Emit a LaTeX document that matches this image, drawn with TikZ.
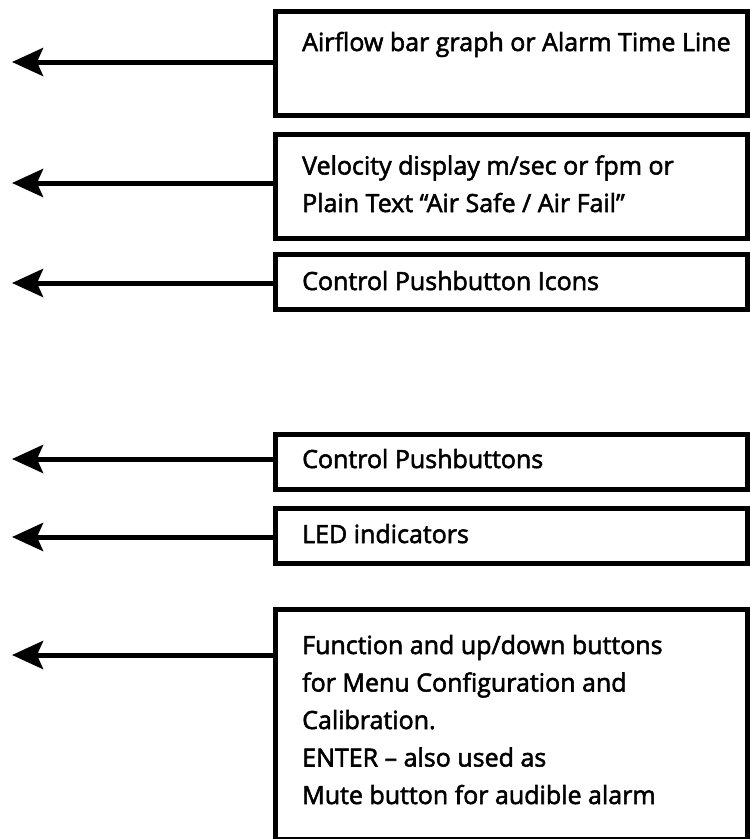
\documentclass[tikz,border=0pt]{standalone}
\usepackage{fontspec}
\setmainfont{Open Sans}[FakeBold=2.2]
\usetikzlibrary{arrows.meta}
\tikzset{
  infobox/.style={draw=black, line width=5pt, rectangle, inner sep=0pt, anchor=north west, minimum width=472pt},
  lbl/.style={anchor=base west, inner sep=0pt, font=\fontsize{25}{37.5}\selectfont, align=left},
  arr/.style={line width=5pt, -{Stealth[length=31pt, width=28pt, inset=6pt]}}
}
\begin{document}
\begin{tikzpicture}[x=1pt, y=-1pt]
\useasboundingbox (0,0) rectangle (750,839);
\clip (0,0) rectangle (750,839);
\fill[white] (0,0) rectangle (750,839);
% boxes
\node[infobox, minimum height=104pt] (b1) at (273,9) {};
\node[infobox, minimum height=104pt] (b2) at (273,132) {};
\node[infobox, minimum height=55pt] (b3) at (273,252) {};
\node[infobox, minimum height=55pt] (b4) at (273,432) {};
\node[infobox, minimum height=55pt] (b5) at (273,506) {};
\node[infobox, minimum height=230pt] (b6) at (273,607) {};
% labels (anchor is the baseline of the last line)
\node[lbl] (l1) at (302,51) {Airflow bar graph or Alarm Time Line};
\node[lbl] (l2) at (302,212) {Velocity display m/sec or fpm or\\Plain Text “Air Safe / Air Fail”};
\node[lbl] (l3) at (302,290) {Control Pushbutton Icons};
\node[lbl] (l4) at (302,468) {Control Pushbuttons};
\node[lbl] (l5) at (302,543) {LED indicators};
\node[lbl] (l6) at (302,804) {Function and up/down buttons\\for Menu Configuration and\\Calibration.\\ENTER – also used as\\Mute button for audible alarm};
% arrow tips
\coordinate (t1) at (12,62);
\coordinate (t2) at (12,183);
\coordinate (t3) at (12,283);
\coordinate (t4) at (12,459);
\coordinate (t5) at (12,537);
\coordinate (t6) at (12,655);
\draw[arr] (b1.west |- t1) -- (t1);
\draw[arr] (b2.west |- t2) -- (t2);
\draw[arr] (b3.west |- t3) -- (t3);
\draw[arr] (b4.west |- t4) -- (t4);
\draw[arr] (b5.west |- t5) -- (t5);
\draw[arr] (b6.west |- t6) -- (t6);
\end{tikzpicture}
\end{document}
